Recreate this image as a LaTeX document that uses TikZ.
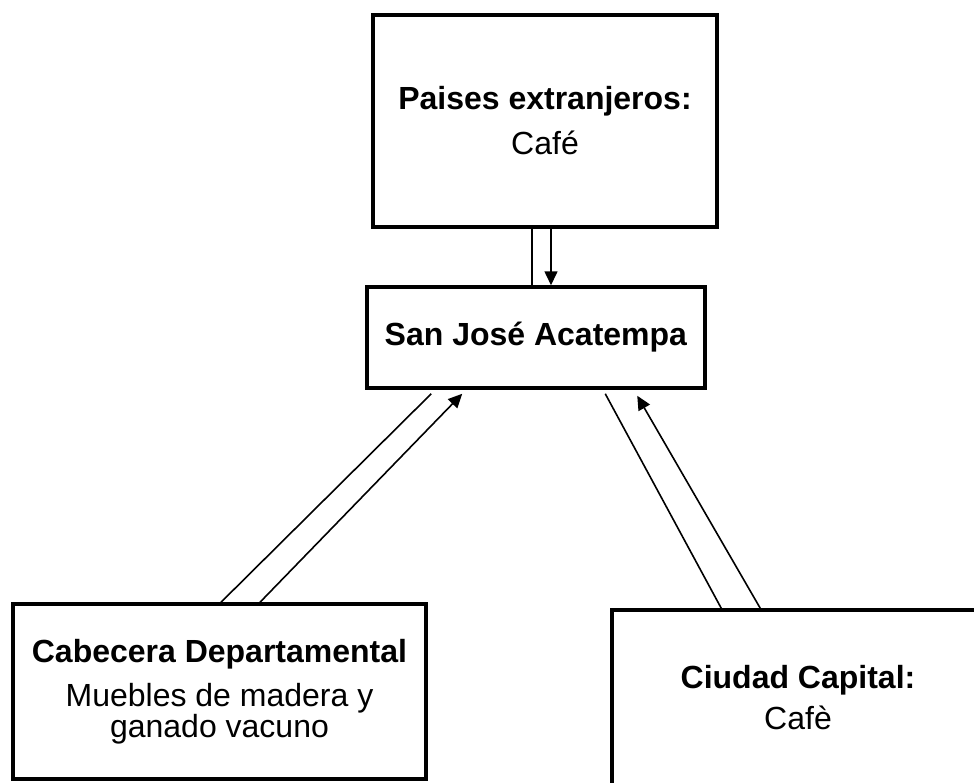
\documentclass[tikz,border=0pt]{standalone}
\usepackage{fontspec}
\setmainfont{Liberation Sans}
\usetikzlibrary{arrows.meta}

\tikzset{
  caja/.style = {draw, line width = 3.5pt, align = center, inner sep = 0pt},
  linea/.style = {line width = 1.6pt},
  flecha/.style = {line width = 1.6pt, -{Triangle[length = 14pt, width = 13pt]}}
}

\begin{document}
\begin{tikzpicture}[x = 1pt, y = -1pt, font = \fontsize{32}{31}\selectfont]
       \useasboundingbox (0, 0) rectangle (974, 782);
       \clip (0, 0) rectangle (974, 782);
       \fill [white] (0, 0) rectangle (974, 782);
       % cuatro cajas
       \node [caja, minimum width = 344pt, minimum height = 212pt] (paises) at (545, 121)
             {\textbf{Paises extranjeros:}\\[14pt] Café};
       \node [caja, minimum width = 338pt, minimum height = 101pt] (sanjose) at (536, 337.5)
             {\textbf{San José Acatempa}};
       \node [caja, minimum width = 413pt, minimum height = 175pt] (cabecera) at (219.5, 691.5)
             {\textbf{Cabecera Departamental}\\[13pt] Muebles de madera y\\ ganado vacuno};
       \node [caja, minimum width = 372pt, minimum height = 176pt] (capital) at (798, 698)
             {\textbf{Ciudad Capital:}\\[10pt] Cafè};

       % conexiones
       \draw [linea] ([xshift = -13pt] paises.south) -- ([xshift = -13pt] paises.south |- sanjose.north);
       \draw [flecha] ([xshift = 6pt] paises.south) -- ([xshift = 6pt] paises.south |- sanjose.north);
       \draw [linea] ([xshift = 1.5pt] cabecera.north) -- ([xshift = 66pt, yshift = -4pt] sanjose.south west);
       \draw [flecha] ([xshift = 40.5pt] cabecera.north) -- ([xshift = 97pt, yshift = -4pt] sanjose.south west);
       \draw [linea] ([xshift = 240pt, yshift = -4pt] sanjose.south west) -- ([xshift = 111pt] capital.north west);
       \draw [flecha] ([xshift = 150pt] capital.north west) -- ([xshift = 272pt, yshift = -6pt] sanjose.south west);
     \end{tikzpicture}
\end{document}
